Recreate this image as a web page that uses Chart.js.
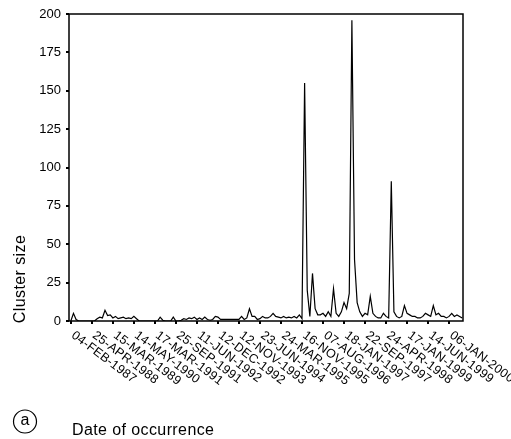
<!DOCTYPE html>
<html>
<head>
<meta charset="utf-8">
<script src="https://cdn.jsdelivr.net/npm/chart.js@4/dist/chart.umd.min.js"></script>
<style>
    html, body { margin: 0; padding: 0; background: #fff; }
    canvas { display: block; }
</style>
</head>
<body>
<canvas id="clusterChart" width="511" height="439"></canvas>
<script>
// Tick labels shown along the x axis, one every pointsPerTick clusters
const tickLabels = [
    '04-FEB-1987', '25-APR-1988', '15-MAR-1989', '14-MAY-1990', '17-MAR-1991',
    '25-SEP-1991', '11-JUN-1992', '12-DEC-1992', '12-NOV-1993', '23-JUN-1994',
    '24-MAR-1995', '16-NOV-1995', '07-AUG-1996', '18-JAN-1997', '22-SEP-1997',
    '24-APR-1998', '17-JAN-1999', '14-JUN-1999', '06-JAN-2000'
];
const pointsPerTick = 8;

// Cluster sizes, in order of occurrence
const clusterSizes = [
    0, 5, 1, 0, 0, 0, 0, 0, 0, 0,
    1.5, 2.5, 2, 7, 3.5, 4, 2, 3, 1.5, 2,
    2.5, 1.5, 2, 1.5, 3, 1.5, 0, 0, 0, 0,
    0, 0, 0, 0, 2.5, 0.5, 0, 0, 0, 2.5,
    0, 0, 0.5, 1.5, 1, 2, 1.5, 2.5, 1, 2,
    1, 2.5, 1, 0.5, 1, 3, 2.5, 1, 1, 1,
    1, 1, 1, 1, 1, 3, 1, 2, 8, 3,
    3, 1, 1.5, 3, 2, 2, 3, 5, 3, 2.5,
    2, 3, 2, 2.5, 2, 3, 2, 4, 1.5, 155,
    20, 3, 31, 8, 4, 4, 5, 3, 6, 3,
    21, 5, 3, 6, 12, 8, 18, 196, 40, 12,
    6, 3, 5, 4, 16, 5, 3, 2, 2, 5,
    3, 2, 91, 6, 3, 2, 3, 10, 5, 4,
    3, 3, 2, 2, 3, 5, 4, 3, 10, 4,
    5, 3, 3, 2, 3, 5, 3, 4, 3, 2
];

const yTitle = 'Cluster size';
const xTitle = 'Date of occurrence';
const panelLetter = 'a';

const FONT = '"Liberation Sans", Arial, sans-serif';

// Frame, rotated date labels and titles drawn on top of the chart
const decorations = {
    id: 'decorations',
    afterDraw(chart) {
        const ctx = chart.ctx;
        const area = chart.chartArea;
        const xScale = chart.scales.x;
        ctx.save();

        ctx.strokeStyle = '#000';
        ctx.lineWidth = 1.5;
        ctx.strokeRect(area.left, area.top, area.right - area.left, area.bottom - area.top);

        ctx.fillStyle = '#000';
        ctx.font = '12.5px ' + FONT;
        ctx.letterSpacing = '0.3px';
        ctx.textAlign = 'left';
        ctx.textBaseline = 'middle';
        tickLabels.forEach((label, k) => {
            const px = xScale.getPixelForValue(k * pointsPerTick);
            ctx.save();
            ctx.translate(px + 2, area.bottom + 13);
            ctx.rotate(37 * Math.PI / 180);
            ctx.fillText(label, 0, 0);
            ctx.restore();
        });

        ctx.font = '16px ' + FONT;
        ctx.letterSpacing = '0.4px';
        ctx.save();
        ctx.translate(25, 279);
        ctx.rotate(-Math.PI / 2);
        ctx.textAlign = 'center';
        ctx.textBaseline = 'alphabetic';
        ctx.fillText(yTitle, 0, 0);
        ctx.restore();

        ctx.textAlign = 'left';
        ctx.textBaseline = 'alphabetic';
        ctx.fillText(xTitle, 72, 435);

        ctx.lineWidth = 1.2;
        ctx.beginPath();
        ctx.arc(25, 421.5, 11.5, 0, Math.PI * 2);
        ctx.stroke();
        ctx.letterSpacing = '0px';
        ctx.textAlign = 'center';
        ctx.textBaseline = 'middle';
        ctx.fillText(panelLetter, 25, 421);

        ctx.restore();
    }
};

const ctx = document.getElementById('clusterChart').getContext('2d');
new Chart(ctx, {
    type: 'line',
    data: {
        datasets: [{
            data: clusterSizes.map((v, i) => ({ x: i, y: v })),
            borderColor: '#000',
            borderWidth: 1.2,
            pointRadius: 0,
            tension: 0,
            fill: false
        }]
    },
    options: {
        responsive: false,
        animation: false,
        devicePixelRatio: 1,
        layout: {
            padding: { top: 14, right: 48, left: 0, bottom: 0 }
        },
        plugins: {
            legend: { display: false },
            tooltip: { enabled: false }
        },
        scales: {
            x: {
                type: 'linear',
                min: -0.7,
                max: 149.3,
                afterBuildTicks: scale => {
                    scale.ticks = tickLabels.map((_, k) => ({ value: k * pointsPerTick }));
                },
                afterFit: scale => { scale.height = 118; },
                ticks: { display: false },
                grid: {
                    drawOnChartArea: false,
                    tickLength: 3,
                    color: '#000',
                    lineWidth: 2
                },
                border: { display: false }
            },
            y: {
                min: 0,
                max: 200,
                afterFit: scale => { scale.width = 69; },
                ticks: {
                    stepSize: 25,
                    color: '#000',
                    padding: 5,
                    font: { family: FONT, size: 13 }
                },
                grid: {
                    drawOnChartArea: false,
                    tickLength: 3,
                    color: '#000',
                    lineWidth: 2
                },
                border: { display: false }
            }
        }
    },
    plugins: [decorations]
});
</script>
</body>
</html>
